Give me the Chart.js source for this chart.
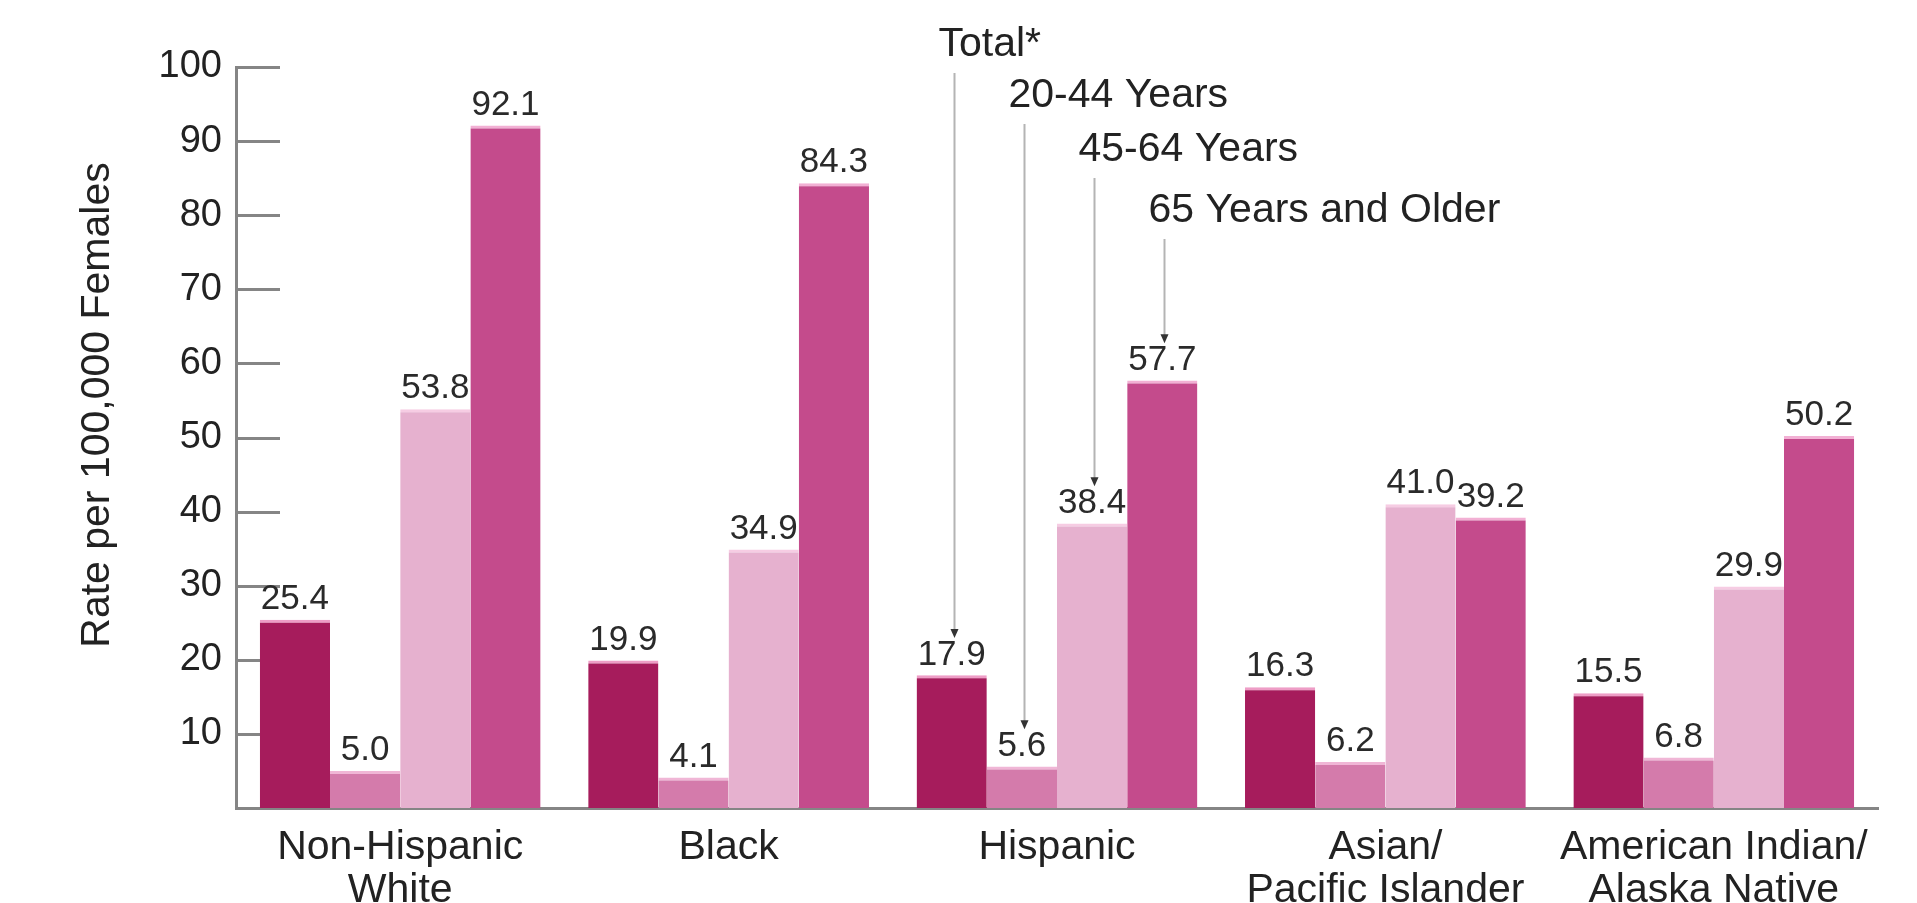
<!DOCTYPE html>
<html>
<head>
<meta charset="utf-8">
<title>Rate per 100,000 Females</title>
<script src="https://cdn.jsdelivr.net/npm/chart.js@4"></script>
<style>
  html, body { margin: 0; padding: 0; background: #ffffff; }
  #wrap { width: 1917px; height: 903px; }
</style>
</head>
<body>
<div id="wrap"><canvas id="chart" width="1917" height="903"></canvas></div>
<script>
// --- data ---
const categories = [
    ['Non-Hispanic', 'White'],
    'Black',
    'Hispanic',
    ['Asian/', 'Pacific Islander'],
    ['American Indian/', 'Alaska Native']
];
const seriesNames = ['Total*', '20-44 Years', '45-64 Years', '65 Years and Older'];
const totalValues = [25.4, 19.9, 17.9, 16.3, 15.5];
const age20to44 = [5.0, 4.1, 5.6, 6.2, 6.8];
const age45to64 = [53.8, 34.9, 38.4, 41.0, 29.9];
const age65plus = [92.1, 84.3, 57.7, 39.2, 50.2];
const yTicks = [10, 20, 30, 40, 50, 60, 70, 80, 90, 100];

// colours per series
const barColors = ['#A61C5C', '#D47BAB', '#E6B1CF', '#C44B8C'];
const edgeColors = ['#EE9DC6', '#F0B6D6', '#F6CCE3', '#F2B0D4'];

// numbers in the reference use a condensed face; use one if it is there
function hasFont(name) {
    const c = document.createElement('canvas').getContext('2d');
    c.font = '40px monospace';
    const a = c.measureText('1234567890.').width;
    c.font = '40px "' + name + '", monospace';
    const b = c.measureText('1234567890.').width;
    return a !== b;
}
const NARROW = hasFont('Liberation Sans Narrow');
const BASE_FAMILY = '"Liberation Sans", Arial, Helvetica, sans-serif';
const NUM_FAMILY = NARROW ? '"Liberation Sans Narrow", ' + BASE_FAMILY : BASE_FAMILY;
const TICK_SIZE = NARROW ? 45 : 38;
const VALUE_SIZE = NARROW ? 41 : 35;
const TEXT = '#222222';
const AXIS = '#858585';

Chart.defaults.font.family = BASE_FAMILY;
Chart.defaults.color = TEXT;

// inner tick marks on the y axis (drawn under the bars)
const innerTicks = {
    id: 'innerTicks',
    beforeDatasetsDraw(chart) {
        const y = chart.scales.y, ctx = chart.ctx;
        ctx.save();
        ctx.strokeStyle = AXIS;
        ctx.lineWidth = 3;
        yTicks.forEach(v => {
            const py = Math.round(y.getPixelForValue(v)) + 0.5;
            ctx.beginPath();
            ctx.moveTo(y.right, py);
            ctx.lineTo(y.right + 44, py);
            ctx.stroke();
        });
        ctx.restore();
    }
};

// value labels above every bar
const valueLabels = {
    id: 'valueLabels',
    afterDatasetsDraw(chart) {
        const ctx = chart.ctx;
        ctx.save();
        ctx.font = VALUE_SIZE + 'px ' + NUM_FAMILY;
        ctx.fillStyle = '#2a2a2a';
        ctx.textAlign = 'center';
        ctx.textBaseline = 'bottom';
        chart.data.datasets.forEach((ds, i) => {
            chart.getDatasetMeta(i).data.forEach((bar, j) => {
                ctx.fillText(ds.data[j].toFixed(1), bar.x, bar.y - 3);
            });
        });
        ctx.restore();
    }
};

// series names with arrows pointing at the Hispanic group, plus the y title
const callouts = {
    id: 'callouts',
    afterDraw(chart) {
        const ctx = chart.ctx;
        const textY = [45, 96, 150, 211];
        const labelH = VALUE_SIZE * 0.75;
        ctx.save();
        chart.data.datasets.forEach((ds, i) => {
            const bar = chart.getDatasetMeta(i).data[2];
            const ax = Math.round(bar.x) + 2.5;
            const tip = bar.y - 3 - labelH - 8;
            // text
            ctx.font = '41px ' + BASE_FAMILY;
            ctx.fillStyle = TEXT;
            ctx.textAlign = 'left';
            ctx.textBaseline = 'middle';
            ctx.fillText(ds.label, ax - 16, textY[i]);
            // shaft
            ctx.strokeStyle = '#b4b4b4';
            ctx.lineWidth = 2;
            ctx.beginPath();
            ctx.moveTo(ax, textY[i] + 28);
            ctx.lineTo(ax, tip - 6);
            ctx.stroke();
            // head
            ctx.fillStyle = '#333333';
            ctx.beginPath();
            ctx.moveTo(ax - 4, tip - 9);
            ctx.lineTo(ax + 4, tip - 9);
            ctx.lineTo(ax, tip);
            ctx.closePath();
            ctx.fill();
        });
        // y axis title
        ctx.translate(98, 405);
        ctx.rotate(-Math.PI / 2);
        ctx.font = '41px ' + BASE_FAMILY;
        ctx.fillStyle = TEXT;
        ctx.textAlign = 'center';
        ctx.textBaseline = 'middle';
        ctx.fillText('Rate per 100,000 Females', 0, 0);
        ctx.restore();
    }
};

const seriesValues = [totalValues, age20to44, age45to64, age65plus];

new Chart(document.getElementById('chart'), {
    type: 'bar',
    data: {
        labels: categories,
        datasets: seriesValues.map((vals, i) => ({
            label: seriesNames[i],
            data: vals,
            backgroundColor: barColors[i],
            borderColor: edgeColors[i],
            borderWidth: { top: 3, left: 0, right: 0, bottom: 0 },
            borderSkipped: 'bottom',
            categoryPercentage: 0.855,
            barPercentage: 1.0
        }))
    },
    options: {
        responsive: false,
        animation: false,
        devicePixelRatio: 1,
        layout: { padding: { top: 67, right: 39, left: 0, bottom: 0 } },
        plugins: {
            legend: { display: false },
            tooltip: { enabled: false }
        },
        scales: {
            x: {
                grid: { display: false, drawTicks: false },
                border: { display: true, color: AXIS, width: 3 },
                ticks: {
                    font: { size: 41, lineHeight: 1.05 },
                    color: TEXT,
                    padding: 18,
                    maxRotation: 0,
                    autoSkip: false
                },
                afterFit(scale) { scale.height = 95; }
            },
            y: {
                min: 0,
                max: 100,
                grid: { display: false, drawTicks: false },
                border: { display: true, color: AXIS, width: 3 },
                ticks: {
                    stepSize: 10,
                    font: { size: TICK_SIZE, family: NUM_FAMILY },
                    color: TEXT,
                    padding: 14,
                    callback: v => (v === 0 ? '' : v)
                },
                afterFit(scale) { scale.width = 236; }
            }
        }
    },
    plugins: [innerTicks, valueLabels, callouts]
});
</script>
</body>
</html>
